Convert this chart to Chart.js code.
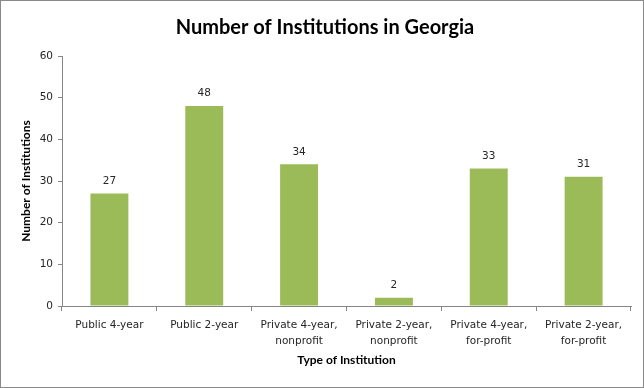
<!DOCTYPE html>
<html><head><meta charset="utf-8">
<script src="https://cdn.jsdelivr.net/npm/chart.js@4/dist/chart.umd.min.js"></script>
<style>
html,body{margin:0;padding:0;background:#fff;}
#wrap{width:644px;height:388px;box-sizing:border-box;border:1px solid #8a8a8a;position:relative;}
canvas{display:block;}
</style></head><body>
<div id="wrap"><canvas id="c" width="642" height="386"></canvas></div>
<script>
const categories = [["Public 4-year"],["Public 2-year"],["Private 4-year,","nonprofit"],["Private 2-year,","nonprofit"],["Private 4-year,","for-profit"],["Private 2-year,","for-profit"]];
const institutions = [27, 48, 34, 2, 33, 31];
const yTicks = [0, 10, 20, 30, 40, 50, 60];

const labelFont = "'DejaVu Sans', sans-serif";
const titleFont = "Lato, 'Open Sans', sans-serif";

const dataLabels = {
  id: 'dataLabels',
  afterDatasetsDraw(chart) {
    const ctx = chart.ctx;
    const meta = chart.getDatasetMeta(0);
    ctx.save();
    ctx.font = "10.5px " + labelFont;
    ctx.fillStyle = '#262626';
    ctx.textAlign = 'center';
    ctx.textBaseline = 'bottom';
    meta.data.forEach((bar, i) => {
      ctx.fillText(String(institutions[i]), bar.x, bar.y - 7);
    });
    ctx.restore();
  }
};

new Chart(document.getElementById('c'), {
  type: 'bar',
  data: {
    labels: categories,
    datasets: [{
      data: institutions,
      backgroundColor: '#9bbb59',
      borderWidth: 0,
      categoryPercentage: 1.0,
      barPercentage: 0.4
    }]
  },
  options: {
    responsive: false,
    animation: false,
    devicePixelRatio: 1,
    layout: { padding: { left: 18, right: 12, top: 0, bottom: 20 } },
    plugins: {
      legend: { display: false },
      tooltip: { enabled: false },
      title: {
        display: true,
        text: 'Number of Institutions in Georgia',
        color: '#000',
        font: { family: titleFont, size: 20, weight: 'bold' },
        padding: { top: 15, bottom: 16 }
      }
    },
    scales: {
      x: {
        offset: true,
        grid: { display: true, offset: true, drawOnChartArea: false, drawTicks: true, tickLength: 5, color: '#868686' },
        border: { display: true, color: '#868686', width: 1 },
        ticks: { color: '#262626', font: { family: labelFont, size: 10.5, lineHeight: 1.55 }, maxRotation: 0, autoSkip: false, padding: 6 },
        title: { display: true, text: 'Type of Institution', color: '#000', font: { family: titleFont, size: 12, weight: 'bold' }, padding: { top: -3, bottom: 0 } }
      },
      y: {
        min: 0, max: 60,
        afterBuildTicks(axis) { axis.ticks = yTicks.map(v => ({ value: v })); },
        grid: { display: true, drawOnChartArea: false, drawTicks: true, tickLength: 4, color: '#868686' },
        border: { display: true, color: '#868686', width: 1 },
        ticks: { color: '#262626', font: { family: labelFont, size: 10.5 }, padding: 5 },
        title: { display: true, text: 'Number of Institutions', color: '#000', font: { family: titleFont, size: 12, weight: 'bold' }, padding: { top: 0, bottom: 4 } },
        afterFit(axis) { axis.width = 43; }
      }
    }
  },
  plugins: [dataLabels]
});
</script>
</body></html>
